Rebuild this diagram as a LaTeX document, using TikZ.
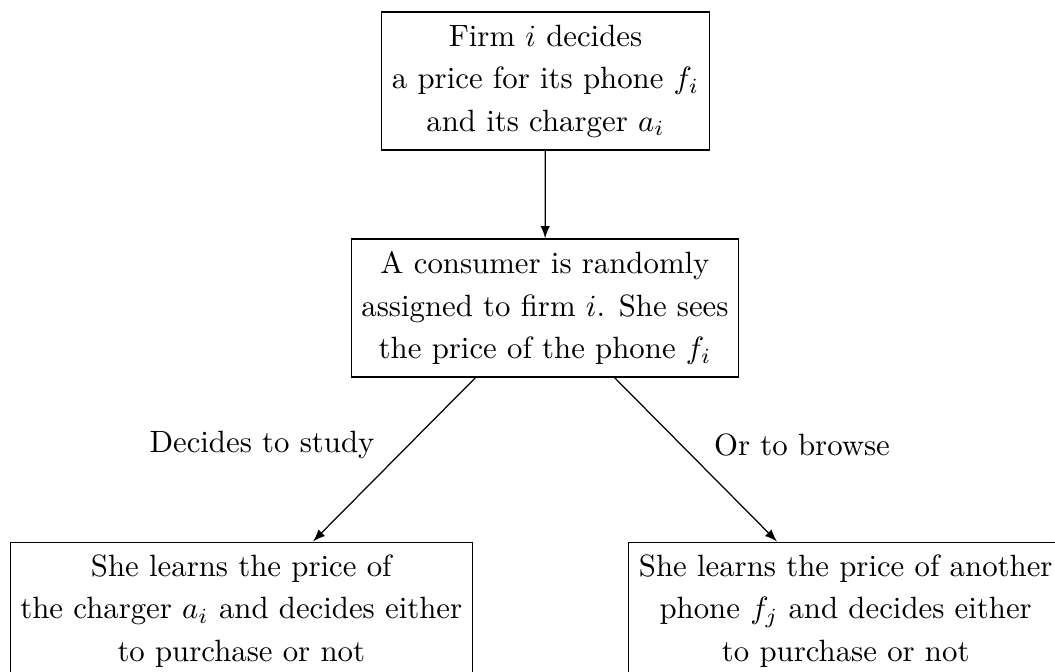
\documentclass[tikz,border=0pt]{standalone}
\usetikzlibrary{calc}

\begin{document}
\begin{tikzpicture}[x=0.3247pt, y=-0.3247pt,
        stagebox/.style={draw, align=center, minimum height=44.8pt,
            font=\fontsize{10pt}{13.8pt}\selectfont}]
        \useasboundingbox (0,0) rectangle (1055,672);
        % stages of the game
        \node[stagebox] (firm) at (545.5,81) {Firm $i$ decides\\ a price for its phone $f_i$\\ and its charger $a_i$};
        \node[stagebox] (consumer) at (545,308) {A consumer is randomly\\ assigned to firm $i$. She sees\\ the price of the phone $f_i$};
        \node[stagebox, anchor=north west] (study) at (9.5,541.5) {She learns the price of\\ the charger $a_i$ and decides either\\ to purchase or not};
        \node[stagebox, anchor=north west] (browse) at (628,541.5) {She learns the price of another\\ phone $f_j$ and decides either\\ to purchase or not};
        % choices
        \node (studylabel) at (262,445) {Decides to study};
        \node (browselabel) at (802,445) {Or to browse};
        \coordinate (studyout) at ($(consumer.south)+(-69.5,0)$);
        \coordinate (browseout) at ($(consumer.south)+(69.5,0)$);
        \coordinate (studyin) at ($(consumer.south)+(-232,0)$);
        \coordinate (browsein) at ($(consumer.south)+(232,0)$);
        \draw[-latex] (firm) -- (consumer);
        \draw[-latex] (studyout) -- (studyin |- study.north);
        \draw[-latex] (browseout) -- (browsein |- browse.north);
    \end{tikzpicture}
\end{document}
